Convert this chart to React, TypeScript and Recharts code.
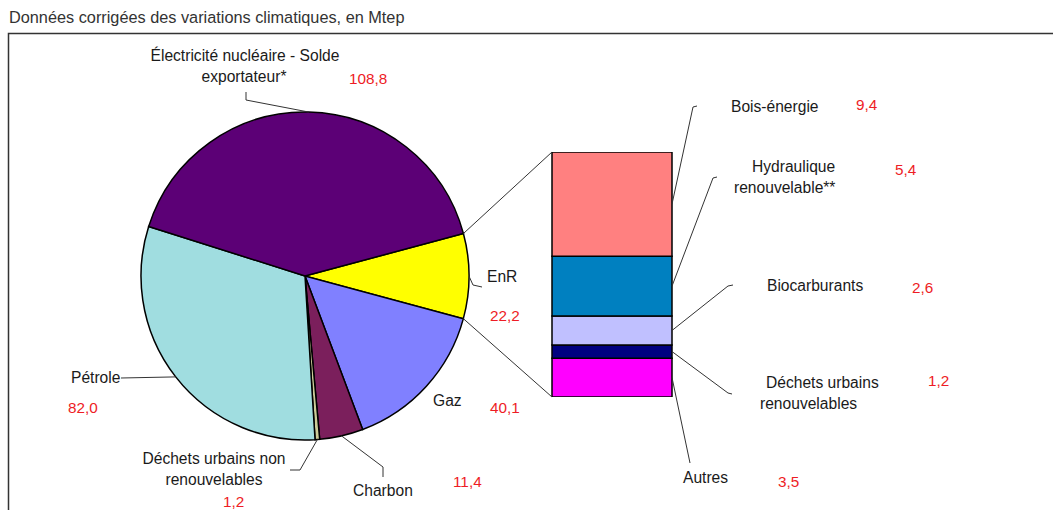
import { PieChart, Pie, Cell, BarChart, Bar, XAxis, YAxis } from 'recharts';

// pie slices, in clockwise order starting from EnR (3 o'clock)
const pieNames = ['EnR', 'Gaz', 'Charbon', 'Déchets urbains non renouvelables', 'Pétrole', 'Électricité nucléaire - Solde exportateur*'];
const pieValues = [22.2, 40.1, 11.4, 1.2, 82.0, 108.8];
const pieColors = ['#FFFF00', '#8080FF', '#7B1F5C', '#CCCC99', '#A0DDE0', '#5C0076'];

// breakdown of EnR, bottom to top
const barNames = ['Autres', 'Déchets urbains renouvelables', 'Biocarburants', 'Hydraulique renouvelable**', 'Bois-énergie'];
const barValues = [3.5, 1.2, 2.6, 5.4, 9.4];
const barColors = ['#FF00FF', '#000080', '#C0C0FF', '#0080C0', '#FF8080'];

const FONT = '"Liberation Sans", Arial, sans-serif';
const RED = '#EE1C25';
const INK = '#1a1a1a';

const CX = 305;
const CY = 276;
const R = 164;
const START = 15;

const BAR = { left: 532, top: 132, width: 160, height: 285, m: 20 };
const barX0 = BAR.left + BAR.m;
const barX1 = BAR.left + BAR.width - BAR.m;
const barY0 = BAR.top + BAR.m;
const barY1 = BAR.top + BAR.height - BAR.m;

const fmt = (v: number) => v.toFixed(1).replace('.', ',');

const pieData = pieNames.map((name, i) => ({ name, value: pieValues[i] }));
const pieTotal = pieValues.reduce((a, b) => a + b, 0);
const barTotal = barValues.reduce((a, b) => a + b, 0);
const barRow: Record<string, number | string> = { name: 'EnR' };
barNames.forEach((n, i) => (barRow[n] = barValues[i]));

// angle helpers (degrees, clockwise from START)
const sliceAngles = (() => {
  let acc = START;
  return pieValues.map((v) => {
    const a0 = acc;
    acc -= (v / pieTotal) * 360;
    return { a0, a1: acc, mid: (a0 + acc) / 2 };
  });
})();
const onPie = (deg: number) => {
  const r = (deg * Math.PI) / 180;
  return [CX + R * Math.cos(r), CY - R * Math.sin(r)];
};
const barMid = (() => {
  let acc = 0;
  return barValues.map((v) => {
    const mid = acc + v / 2;
    acc += v;
    return barY1 - (mid / barTotal) * (barY1 - barY0);
  });
})();

// each line: [text, x]; anchor applies to all lines
type Lbl = { lines: [string, number][]; y: number; anchor?: 'start' | 'middle'; vx: number; vy: number };

const pieLabels: Lbl[] = [
  { lines: [['EnR', 487]], y: 282, vx: 490, vy: 321 },
  { lines: [['Gaz', 433]], y: 406, vx: 490, vy: 413 },
  { lines: [['Charbon', 353]], y: 496, vx: 453, vy: 487 },
  { lines: [['Déchets urbains non', 214], ['renouvelables', 214]], y: 464, anchor: 'middle', vx: 223, vy: 507 },
  { lines: [['Pétrole', 71]], y: 383, vx: 68, vy: 413 },
  { lines: [['Électricité nucléaire - Solde', 245], ['exportateur*', 244]], y: 61, anchor: 'middle', vx: 349, vy: 84 },
];
const pieLeaders: (number[][] | null)[] = [
  [[473, 285], [482, 287]],
  null,
  [[383, 467], [383, 477]],
  [[300, 470], [290, 470]],
  [[121, 378]],
  [[246, 100], [246, 92]],
];

const barLabels: Lbl[] = [
  { lines: [['Autres', 683]], y: 483, vx: 778, vy: 487 },
  { lines: [['Déchets urbains', 766], ['renouvelables', 760]], y: 388, vx: 928, vy: 386 },
  { lines: [['Biocarburants', 767]], y: 291, vx: 912, vy: 293 },
  { lines: [['Hydraulique', 752], ['renouvelable**', 734]], y: 172, vx: 895, vy: 175 },
  { lines: [['Bois-énergie', 731]], y: 112, vx: 856, vy: 110 },
];
const barLeaders: number[][][] = [
  [[690, 463]],
  [[728, 393], [732, 394]],
  [[728, 286], [733, 285]],
  [[713, 178], [717, 177]],
  [[693, 107], [697, 106]],
];

function Label({ l, value }: { l: Lbl; value: number }) {
  return (
    <g fontFamily={FONT} fontSize={15.6}>
      {l.lines.map(([t, x], i) => (
        <text key={i} x={x} y={l.y + i * 21} fill={INK} textAnchor={l.anchor ?? 'start'}>
          {t}
        </text>
      ))}
      <text x={l.vx} y={l.vy} fill={RED} fontSize={15.3}>
        {fmt(value)}
      </text>
    </g>
  );
}

const poly = (pts: number[][]) => pts.map((p) => p.join(',')).join(' ');

export default function App() {
  const enr = sliceAngles[0];
  const pTop = onPie(enr.a0);
  const pBot = onPie(enr.a1);

  return (
    <div style={{ position: 'absolute', left: 0, top: 0, width: 1053, height: 510, background: '#fff', overflow: 'hidden' }}>
      <div style={{ position: 'absolute', left: 0, top: 0 }}>
        <PieChart width={1053} height={510} margin={{ top: 0, right: 0, bottom: 0, left: 0 }}>
          <Pie
            data={pieData}
            dataKey="value"
            cx={CX}
            cy={CY}
            outerRadius={R}
            startAngle={START}
            endAngle={START - 360}
            stroke="#000"
            strokeWidth={1.5}
            isAnimationActive={false}
          >
            {pieData.map((d, i) => (
              <Cell key={d.name} fill={pieColors[i]} />
            ))}
          </Pie>
        </PieChart>
      </div>

      <div style={{ position: 'absolute', left: BAR.left, top: BAR.top }}>
        <BarChart
          width={BAR.width}
          height={BAR.height}
          data={[barRow]}
          margin={{ top: BAR.m, right: BAR.m, bottom: BAR.m, left: BAR.m }}
          barCategoryGap={0}
          barGap={0}
        >
          <XAxis dataKey="name" hide />
          <YAxis hide domain={[0, barTotal]} allowDataOverflow />
          {barNames.map((n, i) => (
            <Bar key={n} dataKey={n} stackId="enr" fill={barColors[i]} stroke="#000" strokeWidth={1.5} isAnimationActive={false} />
          ))}
        </BarChart>
      </div>

      <svg width={1053} height={510} style={{ position: 'absolute', left: 0, top: 0, pointerEvents: 'none' }}>
        <text x={9} y={23} fontFamily={FONT} fontSize={16.3} fill="#333">
          Données corrigées des variations climatiques, en Mtep
        </text>
        <path d="M8.5 512 V33.5 H1056" fill="none" stroke="#333" strokeWidth={1.5} />

        <line x1={pTop[0]} y1={pTop[1]} x2={barX0} y2={barY0} stroke="#333" strokeWidth={1} />
        <line x1={pBot[0]} y1={pBot[1]} x2={barX0} y2={barY1} stroke="#333" strokeWidth={1} />

        {pieLeaders.map((pts, i) =>
          pts ? (
            <polyline key={i} points={poly([onPie(sliceAngles[i].mid), ...pts])} fill="none" stroke="#333" strokeWidth={1} />
          ) : null
        )}
        {barLeaders.map((pts, i) => (
          <polyline key={i} points={poly([[barX1, barMid[i]], ...pts])} fill="none" stroke="#333" strokeWidth={1} />
        ))}

        {pieLabels.map((l, i) => (
          <Label key={'p' + i} l={l} value={pieValues[i]} />
        ))}
        {barLabels.map((l, i) => (
          <Label key={'b' + i} l={l} value={barValues[i]} />
        ))}
      </svg>
    </div>
  );
}
